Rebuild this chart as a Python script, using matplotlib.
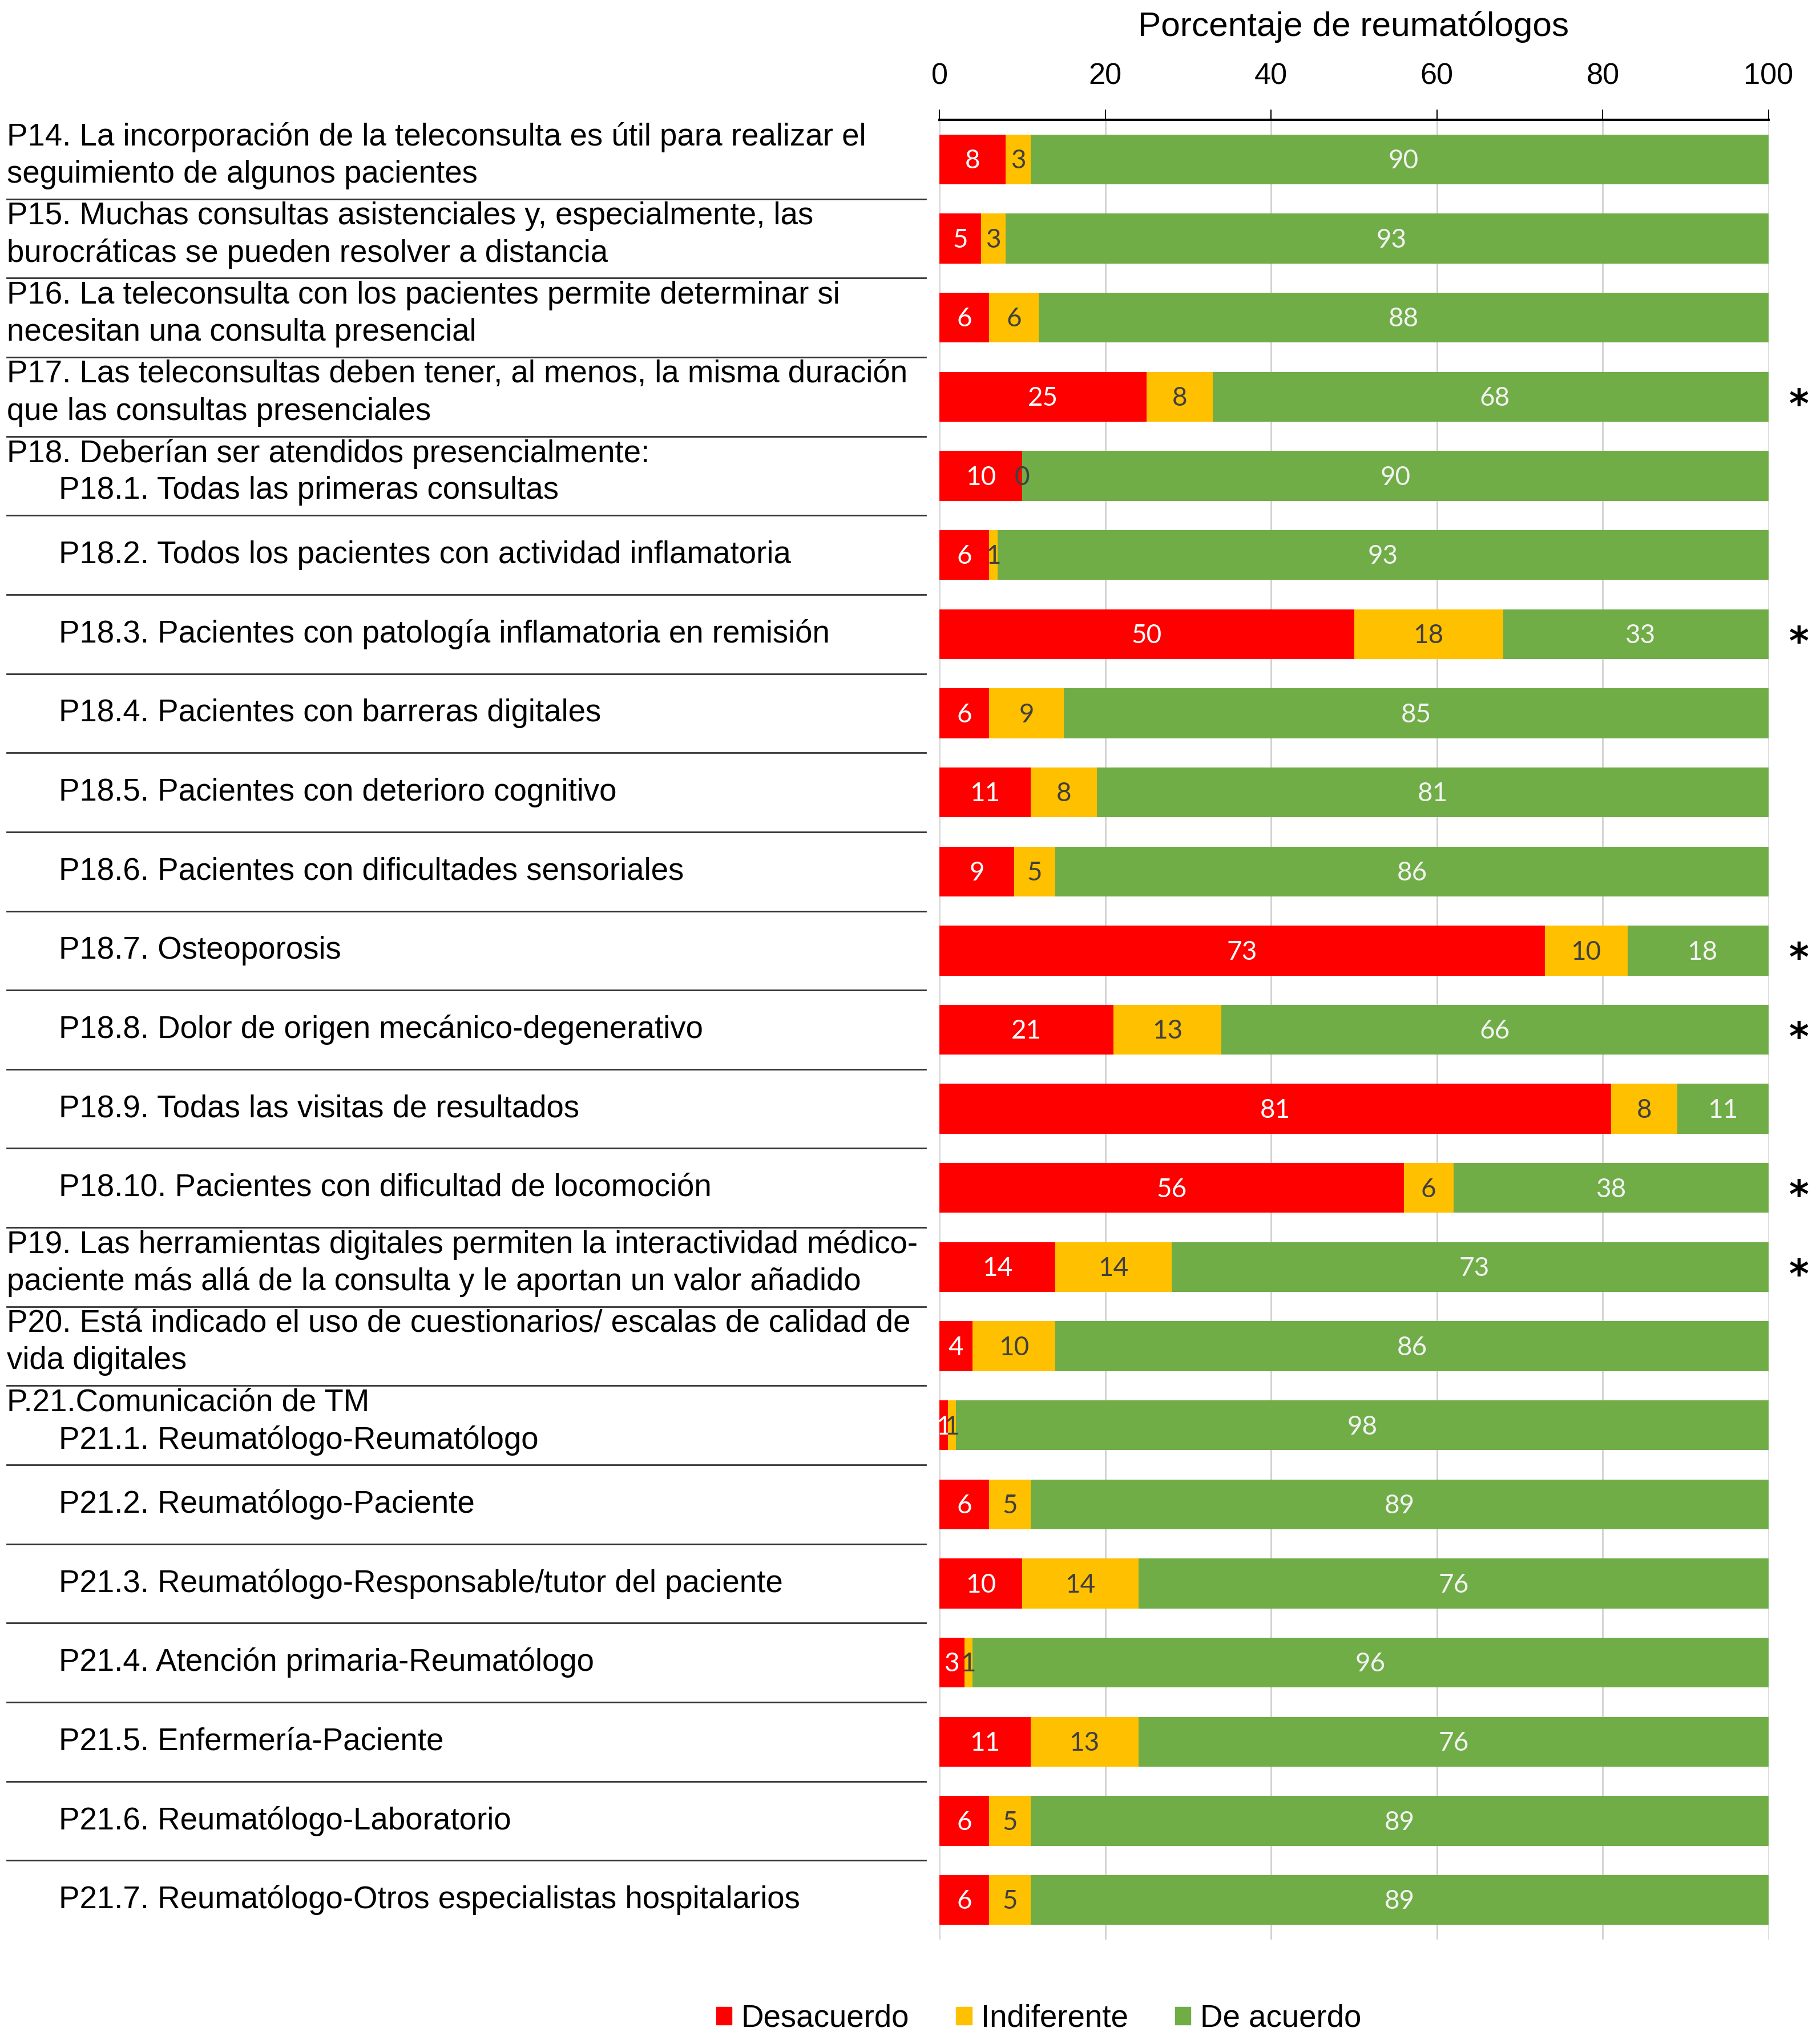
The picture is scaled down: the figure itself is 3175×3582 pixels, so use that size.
import matplotlib

matplotlib.use("Agg")
import matplotlib.pyplot as plt
from matplotlib import font_manager as fm
from matplotlib.patches import Patch
from matplotlib.lines import Line2D
from matplotlib.transforms import blended_transform_factory
import numpy as np

# Fuente estrecha si existe; si no, Liberation Sans algo mas pequena
_nombres = {f.name for f in fm.fontManager.ttflist}
if "Liberation Sans Narrow" in _nombres:
    FAM, ESC = "Liberation Sans Narrow", 1.0
else:
    FAM, ESC = "Liberation Sans", 0.82
plt.rcParams["font.family"] = [FAM, "DejaVu Sans"]

# --- Datos (porcentaje de reumatólogos) ---
etiquetas = [
    "P14. La incorporación de la teleconsulta es útil para realizar el\nseguimiento de algunos pacientes",
    "P15. Muchas consultas asistenciales y, especialmente, las\nburocráticas se pueden resolver a distancia",
    "P16. La teleconsulta con los pacientes permite determinar si\nnecesitan una consulta presencial",
    "P17. Las teleconsultas deben tener, al menos, la misma duración\nque las consultas presenciales",
    "P18.1. Todas las primeras consultas",
    "P18.2. Todos los pacientes con actividad inflamatoria",
    "P18.3. Pacientes con patología inflamatoria en remisión",
    "P18.4. Pacientes con barreras digitales",
    "P18.5. Pacientes con deterioro cognitivo",
    "P18.6. Pacientes con dificultades sensoriales",
    "P18.7. Osteoporosis",
    "P18.8. Dolor de origen mecánico-degenerativo",
    "P18.9. Todas las visitas de resultados",
    "P18.10. Pacientes con dificultad de locomoción",
    "P19. Las herramientas digitales permiten la interactividad médico-\npaciente más allá de la consulta y le aportan un valor añadido",
    "P20. Está indicado el uso de cuestionarios/ escalas de calidad de\nvida digitales",
    "P21.1. Reumatólogo-Reumatólogo",
    "P21.2. Reumatólogo-Paciente",
    "P21.3. Reumatólogo-Responsable/tutor del paciente",
    "P21.4. Atención primaria-Reumatólogo",
    "P21.5. Enfermería-Paciente",
    "P21.6. Reumatólogo-Laboratorio",
    "P21.7. Reumatólogo-Otros especialistas hospitalarios",
]
encabezados = {4: "P18. Deberían ser atendidos presencialmente:",
               16: "P.21.Comunicación de TM"}
sangria = [False] * 4 + [True] * 10 + [False] * 2 + [True] * 7

desacuerdo = [8, 5, 6, 25, 10, 6, 50, 6, 11, 9, 73, 21, 81, 56, 14, 4, 1, 6, 10, 3, 11, 6, 6]
indiferente = [3, 3, 6, 8, 0, 1, 18, 9, 8, 5, 10, 13, 8, 6, 14, 10, 1, 5, 14, 1, 13, 5, 5]
de_acuerdo = [90, 93, 88, 68, 90, 93, 33, 85, 81, 86, 18, 66, 11, 38, 73, 86, 98, 89, 76, 96, 76, 89, 89]
significativo = [3, 6, 10, 11, 13, 14]

series = [
    ("Desacuerdo", desacuerdo, "#FF0000", "white"),
    ("Indiferente", indiferente, "#FFC000", "#404040"),
    ("De acuerdo", de_acuerdo, "#70AD47", "#F2F2F2"),
]

FS_ETQ = 48 * ESC
FS_TIT = 53 * ESC
FS_TICK = 46 * ESC
FS_LEY = 48 * ESC

W, H = 3175, 3582
fig = plt.figure(figsize=(W / 100, H / 100), dpi=100)
ax = fig.add_axes([1646 / W, 1 - 3399 / H, (3099 - 1646) / W, (3399 - 210) / H])

y = np.arange(len(etiquetas))
izq = np.zeros(len(etiquetas))
for nombre, vals, color, ctxt in series:
    vals = np.array(vals, dtype=float)
    ax.barh(y, vals, left=izq, height=0.63, color=color, label=nombre, zorder=3)
    for yi, l, v in zip(y, izq, vals):
        ax.text(l + v / 2, yi + 0.02, f"{int(v)}", ha="center", va="center",
                fontsize=33, color=ctxt, family=["Lato", "DejaVu Sans"], zorder=4)
    izq += vals

ax.set_xlim(0, 100)
ax.set_ylim(len(etiquetas) - 0.5, -0.5)
ax.set_yticks([])
ax.xaxis.tick_top()
ax.set_xticks(range(0, 101, 20))
ax.tick_params(axis="x", labelsize=FS_TICK, length=13, width=1.5, pad=24)
ax.grid(axis="x", color="#D0D0D0", linewidth=2, zorder=0)
for s in ["bottom", "left", "right"]:
    ax.spines[s].set_visible(False)
ax.spines["top"].set_linewidth(3)

fig.text(0.747, 1 - 47 / H, "Porcentaje de reumatólogos", ha="center", va="center",
         fontsize=FS_TIT)

# --- Etiquetas de las preguntas a la izquierda ---
tr = blended_transform_factory(fig.transFigure, ax.transData)
x0, x1 = 12 / W, 103 / W
kw = dict(transform=tr, ha="left", va="center", fontsize=FS_ETQ, clip_on=False)
for i, txt in enumerate(etiquetas):
    xt = x1 if sangria[i] else x0
    if i in encabezados:
        ax.text(x0, i - 0.28, encabezados[i], **kw)
        ax.text(xt, i + 0.19, txt, **kw)
    elif "\n" in txt:
        a, b = txt.split("\n")
        ax.text(xt, i - 0.28, a, **kw)
        ax.text(xt, i + 0.19, b, **kw)
    else:
        ax.text(xt, i, txt, **kw)
    if i < len(etiquetas) - 1:
        ax.add_line(Line2D([x0, 1622 / W], [i + 0.5, i + 0.5], transform=tr,
                           color="#333333", linewidth=2, clip_on=False))

for i in significativo:
    ax.text(3152 / W, i + 0.12, "*", transform=tr, ha="center", va="center",
            fontsize=48, fontweight="bold", family="DejaVu Sans", clip_on=False)

handles = [Patch(color=c, label=n) for n, _, c, _ in series]
fig.legend(handles=handles, loc="center", bbox_to_anchor=(1820 / W, 1 - 3538 / H),
           ncol=3, frameon=False, fontsize=FS_LEY, handlelength=0.5, handleheight=0.5,
           handletextpad=0.3, columnspacing=1.5)

fig.savefig("out.png", dpi=100)
